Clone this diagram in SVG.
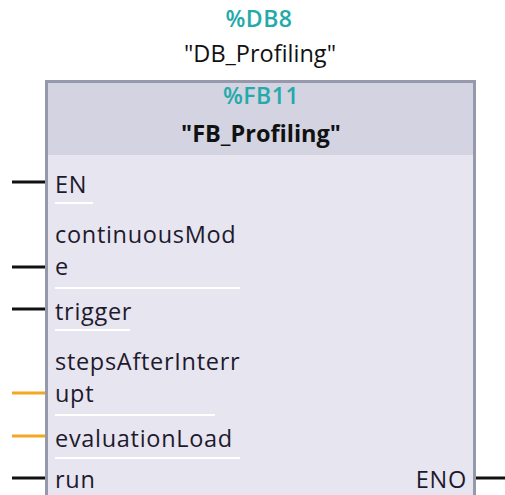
<svg xmlns="http://www.w3.org/2000/svg" width="505" height="495" viewBox="0 0 505 495">
<style>
.t{font-family:"Open Sans","Noto Sans",sans-serif;font-size:23.5px;fill:#1e1a2e;letter-spacing:0.7px}
.c{font-family:"Open Sans","Noto Sans",sans-serif;font-size:23px;fill:#23aaaa;font-weight:600;text-anchor:middle;letter-spacing:0.5px}
.h{font-family:"Open Sans","Noto Sans",sans-serif;font-size:23.5px;fill:#111;text-anchor:middle}
.w{stroke:#111;stroke-width:3}
.o{stroke:#f5a623;stroke-width:3}
.s{stroke:#ffffff;stroke-width:2}
</style>
<g id="instance">
<text class="c" x="259" y="27">%DB8</text>
<text class="h" x="260" y="62">"DB_Profiling"</text>
</g>
<g id="block">
<rect x="46.5" y="81.5" width="428" height="430" fill="#e7e5f0" stroke="#9599ab" stroke-width="3"/>
<rect x="48" y="83" width="425" height="72" fill="#d3d3e1"/>
<text class="c" x="261" y="104" font-weight="normal" letter-spacing="1.5px">%FB11</text>
<text class="h" x="261" y="142" font-weight="bold" font-size="23px">"FB_Profiling"</text>
</g>
<g id="pins">
<text class="t" x="55" y="193">EN</text>
<line class="s" x1="55" y1="203" x2="93" y2="203"/>
<text class="t" x="55" y="243">continuousMod</text>
<text class="t" x="55" y="275">e</text>
<line class="s" x1="55" y1="288" x2="240" y2="288"/>
<text class="t" x="55" y="320">trigger</text>
<line class="s" x1="55" y1="330" x2="130" y2="330"/>
<text class="t" x="55" y="370">stepsAfterInterr</text>
<text class="t" x="55" y="402">upt</text>
<line class="s" x1="55" y1="415" x2="215" y2="415"/>
<text class="t" x="55" y="447">evaluationLoad</text>
<line class="s" x1="55" y1="458" x2="240" y2="458"/>
<text class="t" x="55" y="488">run</text>
<text class="t" x="467" y="488" text-anchor="end">ENO</text>
</g>
<g id="connectors">
<line class="w" x1="12" y1="182" x2="45" y2="182"/>
<line class="w" x1="12" y1="267" x2="45" y2="267"/>
<line class="w" x1="12" y1="309" x2="45" y2="309"/>
<line class="o" x1="12" y1="393" x2="45" y2="393"/>
<line class="o" x1="12" y1="436" x2="45" y2="436"/>
<line class="w" x1="12" y1="478" x2="45" y2="478"/>
<line class="w" x1="476" y1="478" x2="505" y2="478"/>
</g>
</svg>
